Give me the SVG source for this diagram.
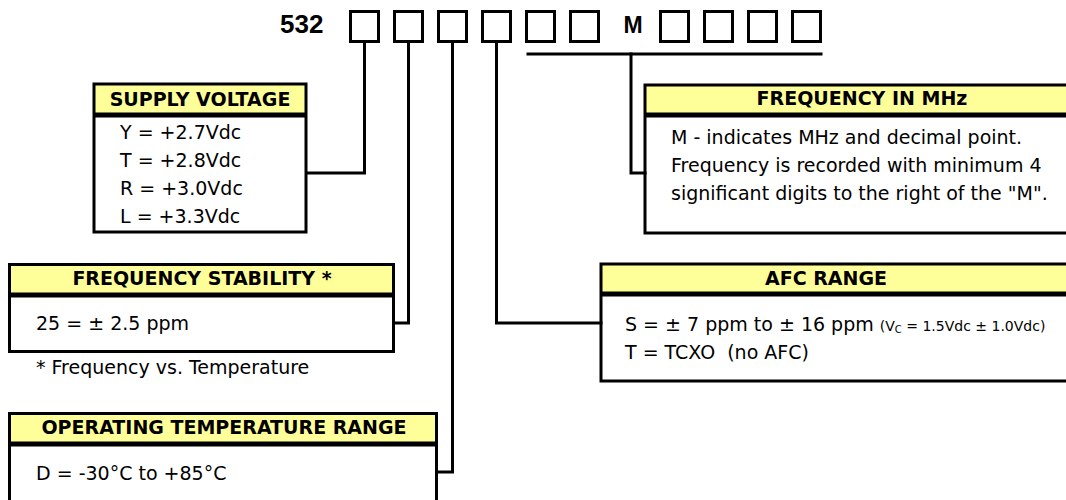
<svg xmlns="http://www.w3.org/2000/svg" width="1066" height="500" viewBox="0 0 1066 500">
<style>
  .bg { fill: #ffffff; }
  .cell { fill: none; stroke: #000; stroke-width: 3; }
  .hdr { fill: #ffff99; stroke: none; }
  .box { fill: none; stroke: #000; stroke-width: 3; }
  .sep { stroke: #000; stroke-width: 5; }
  .conn { fill: none; stroke: #000; stroke-width: 3; stroke-linejoin: miter; stroke-linecap: square; }
  .code { font-family: "Liberation Sans", Arial, sans-serif; font-weight: bold; fill: #000; }
  .h { font-family: "DejaVu Sans", Verdana, sans-serif; font-weight: bold; font-size: 19px; fill: #000; text-anchor: middle; }
  .t { font-family: "DejaVu Sans", Verdana, sans-serif; font-size: 19px; fill: #000; }
  .s { font-family: "DejaVu Sans", Verdana, sans-serif; font-size: 14px; fill: #000; }
</style>
<rect class="bg" x="0" y="0" width="1066" height="500"/>

<g id="part-number">
  <text class="code" x="280" y="33" font-size="26">532</text>
  <rect class="cell" x="350.5" y="11.5" width="28" height="30"/>
  <rect class="cell" x="394.5" y="11.5" width="28" height="30"/>
  <rect class="cell" x="438.5" y="11.5" width="28" height="30"/>
  <rect class="cell" x="482.5" y="11.5" width="28" height="30"/>
  <rect class="cell" x="526.5" y="11.5" width="28" height="30"/>
  <rect class="cell" x="570.5" y="11.5" width="28" height="30"/>
  <text class="code" x="633" y="33" font-size="23" text-anchor="middle">M</text>
  <rect class="cell" x="660.5" y="11.5" width="28" height="30"/>
  <rect class="cell" x="704.5" y="11.5" width="28" height="30"/>
  <rect class="cell" x="748.5" y="11.5" width="28" height="30"/>
  <rect class="cell" x="792.5" y="11.5" width="28" height="30"/>
</g>

<g id="connectors">
  <path class="conn" d="M307,173 H364.5 V43"/>
  <path class="conn" d="M395,323 H408.5 V43"/>
  <path class="conn" d="M438,472 H452.5 V43"/>
  <path class="conn" d="M496.5,43 V323 H601"/>
  <path class="conn" d="M528,54 H821"/>
  <path class="conn" d="M631,54 V173 H645"/>
</g>

<g id="supply-voltage">
  <rect class="hdr" x="94" y="84" width="212" height="31"/>
  <rect class="box" x="94" y="84" width="212" height="148"/>
  <line class="sep" x1="94" y1="115" x2="306" y2="115"/>
  <text class="h" x="200" y="106">SUPPLY VOLTAGE</text>
  <text class="t" x="120" y="139">Y = +2.7Vdc</text>
  <text class="t" x="120" y="167">T = +2.8Vdc</text>
  <text class="t" x="120" y="195">R = +3.0Vdc</text>
  <text class="t" x="120" y="223">L = +3.3Vdc</text>
</g>

<g id="frequency-stability">
  <rect class="hdr" x="9.5" y="264.5" width="384" height="30.5"/>
  <rect class="box" x="9.5" y="264.5" width="384" height="87"/>
  <line class="sep" x1="9.5" y1="295" x2="393.5" y2="295"/>
  <text class="h" x="202" y="285">FREQUENCY STABILITY *</text>
  <text class="t" x="36" y="330">25 = ± 2.5 ppm</text>
  <text class="t" x="36" y="374">* Frequency vs. Temperature</text>
</g>

<g id="operating-temperature">
  <rect class="hdr" x="9.5" y="413.5" width="427" height="30.5"/>
  <rect class="box" x="9.5" y="413.5" width="427" height="120"/>
  <line class="sep" x1="9.5" y1="444" x2="436.5" y2="444"/>
  <text class="h" x="224" y="434">OPERATING TEMPERATURE RANGE</text>
  <text class="t" x="36" y="480">D = -30°C to +85°C</text>
</g>

<g id="frequency-mhz">
  <rect class="hdr" x="645" y="85" width="460" height="30"/>
  <rect class="box" x="645" y="85" width="460" height="148"/>
  <line class="sep" x1="645" y1="115" x2="1105" y2="115"/>
  <text class="h" x="862" y="105">FREQUENCY IN MHz</text>
  <text class="t" x="671" y="144">M - indicates MHz and decimal point.</text>
  <text class="t" x="671" y="172">Frequency is recorded with minimum 4</text>
  <text class="t" x="671" y="200">significant digits to the right of the "M".</text>
</g>

<g id="afc-range">
  <rect class="hdr" x="601" y="264" width="500" height="30"/>
  <rect class="box" x="601" y="264" width="500" height="117"/>
  <line class="sep" x1="601" y1="294" x2="1101" y2="294"/>
  <text class="h" x="826" y="285">AFC RANGE</text>
  <text class="t" x="625" y="331">S = ± 7 ppm to ± 16 ppm <tspan class="s">(V<tspan font-size="10" dy="2">C</tspan><tspan dy="-2"> = 1.5Vdc ± 1.0Vdc)</tspan></tspan></text>
  <text class="t" x="625" y="359">T = TCXO&#160; (no AFC)</text>
</g>
</svg>
